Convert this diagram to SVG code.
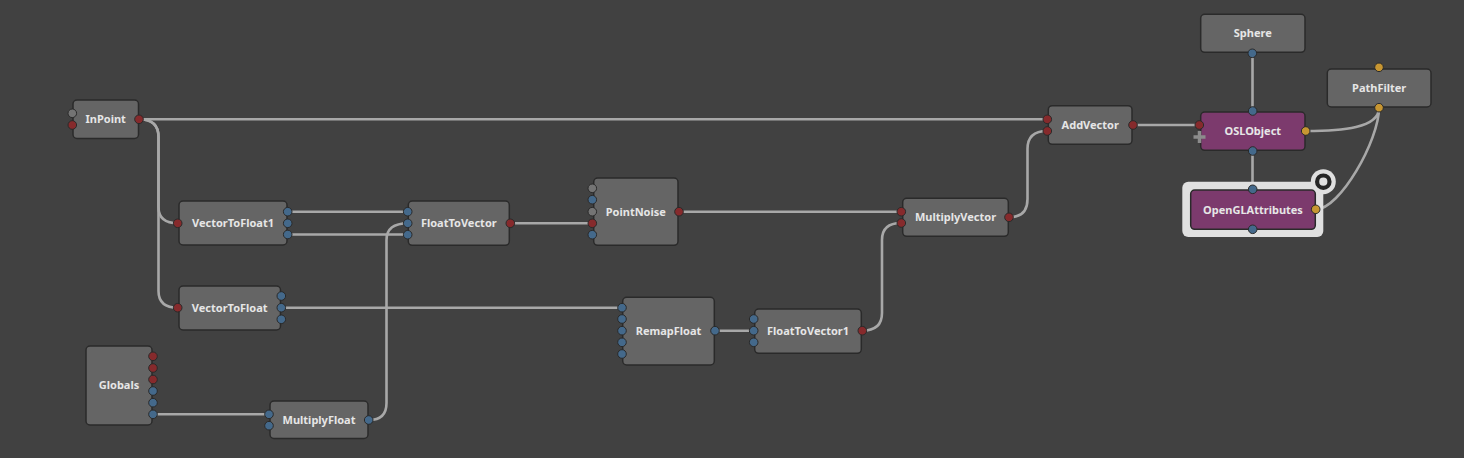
<svg xmlns="http://www.w3.org/2000/svg" width="1464" height="458" viewBox="0 0 1464 458">
<style>
.bg{fill:#414141}
.n{fill:#656565;stroke:#2a2a2a;stroke-width:1.5}
.p{fill:#7c3a6d;stroke:#2a2a2a;stroke-width:1.5}
.t{font-family:"Noto Sans","DejaVu Sans",sans-serif;font-weight:bold;font-size:11px;fill:#e6e6e6;text-anchor:middle}
.r{fill:#862a2c;stroke:#2a2a2a;stroke-width:1}
.b{fill:#44698b;stroke:#2a2a2a;stroke-width:1}
.g{fill:#747474;stroke:#2a2a2a;stroke-width:1}
.y{fill:#c79632;stroke:#2a2a2a;stroke-width:1}
.c{fill:none;stroke:#a8a8a8;stroke-width:2.6}
</style>
<rect class="bg" x="0" y="0" width="1464" height="458"/>
<g id="connectors">
<path class="c" d="M139,119.3 L1047,119.3"/>
<path class="c" d="M139,119.3 Q158.5,119.3 158.5,137 L158.5,207 Q158.5,223.3 178,223.3"/>
<path class="c" d="M139,119.3 Q158.5,119.3 158.5,137 L158.5,291 Q158.5,307.7 178,307.7"/>
<path class="c" d="M288,211.7 L408,211.7"/>
<path class="c" d="M288,234.5 L408,234.5"/>
<path class="c" d="M369,420 Q386.5,420 386.5,403 L386.5,240 Q386.5,223.3 408,223.3"/>
<path class="c" d="M153,414.3 L269,414.3"/>
<path class="c" d="M281,307.7 L622,307.7"/>
<path class="c" d="M510,223.3 L592,223.3"/>
<path class="c" d="M679,211.7 L901,211.7"/>
<path class="c" d="M715,330.7 L754,330.7"/>
<path class="c" d="M862,330.7 Q882,330.7 882,313 L882,240 Q882,223 901,223"/>
<path class="c" d="M1009,217.3 Q1027.5,217.3 1027.5,199 L1027.5,149 Q1027.5,131 1047,131"/>
<path class="c" d="M1133,125 L1199,125"/>
<path class="c" d="M1252.5,53 L1252.5,111"/>
<path class="c" d="M1252.5,151 L1252.5,189"/>
<path class="c" d="M1306,131 C1342,131 1379,128 1379,108"/>
<path class="c" d="M1316,209.3 C1340,209.3 1379,140 1379,108"/>
</g>
<g id="InPoint">
<rect class="n" x="73" y="100" width="65.5" height="38.5" rx="4"/>
<text class="t" x="105.7" y="123.3">InPoint</text>
<circle class="g" cx="72.3" cy="113.3" r="4.3"/>
<circle class="r" cx="72.3" cy="125" r="4.3"/>
<circle class="r" cx="139" cy="119.3" r="4.3"/>
</g>
<g id="VectorToFloat1">
<rect class="n" x="179" y="201" width="108" height="44" rx="4"/>
<text class="t" x="233" y="227.3">VectorToFloat1</text>
<circle class="r" cx="177.7" cy="223.3" r="4.3"/>
<circle class="b" cx="287.7" cy="211.7" r="4.3"/>
<circle class="b" cx="287.7" cy="223.3" r="4.3"/>
<circle class="b" cx="287.7" cy="234.5" r="4.3"/>
</g>
<g id="VectorToFloat">
<rect class="n" x="179" y="286" width="101.5" height="44" rx="4"/>
<text class="t" x="229.7" y="311.7">VectorToFloat</text>
<circle class="r" cx="177.7" cy="307.7" r="4.3"/>
<circle class="b" cx="281.3" cy="296" r="4.3"/>
<circle class="b" cx="281.3" cy="307.7" r="4.3"/>
<circle class="b" cx="281.3" cy="319.3" r="4.3"/>
</g>
<g id="Globals">
<rect class="n" x="86" y="346" width="66" height="79" rx="4"/>
<text class="t" x="119" y="389.3">Globals</text>
<circle class="r" cx="153" cy="356.3" r="4.3"/>
<circle class="r" cx="153" cy="368" r="4.3"/>
<circle class="r" cx="153" cy="379.5" r="4.3"/>
<circle class="b" cx="153" cy="391" r="4.3"/>
<circle class="b" cx="153" cy="402.7" r="4.3"/>
<circle class="b" cx="153" cy="414.3" r="4.3"/>
</g>
<g id="MultiplyFloat">
<rect class="n" x="270" y="401" width="98" height="37.5" rx="4"/>
<text class="t" x="319" y="424">MultiplyFloat</text>
<circle class="b" cx="269" cy="414.3" r="4.3"/>
<circle class="b" cx="269" cy="425.7" r="4.3"/>
<circle class="b" cx="368.7" cy="420" r="4.3"/>
</g>
<g id="FloatToVector">
<rect class="n" x="408.3" y="201" width="101" height="44.3" rx="4"/>
<text class="t" x="458.8" y="227.3">FloatToVector</text>
<circle class="b" cx="407.7" cy="211.7" r="4.3"/>
<circle class="b" cx="407.7" cy="223.3" r="4.3"/>
<circle class="b" cx="407.7" cy="234.7" r="4.3"/>
<circle class="r" cx="510.3" cy="223.3" r="4.3"/>
</g>
<g id="PointNoise">
<rect class="n" x="593.7" y="178" width="84.3" height="67.3" rx="4"/>
<text class="t" x="635.8" y="215.7">PointNoise</text>
<circle class="g" cx="592.3" cy="188.3" r="4.3"/>
<circle class="b" cx="592.3" cy="199.7" r="4.3"/>
<circle class="g" cx="592.3" cy="211.7" r="4.3"/>
<circle class="r" cx="592.3" cy="223.3" r="4.3"/>
<circle class="b" cx="592.3" cy="234.7" r="4.3"/>
<circle class="r" cx="679" cy="211.7" r="4.3"/>
</g>
<g id="RemapFloat">
<rect class="n" x="622.7" y="297.3" width="91.6" height="67.7" rx="4"/>
<text class="t" x="668.5" y="334.7">RemapFloat</text>
<circle class="b" cx="622" cy="307.7" r="4.3"/>
<circle class="b" cx="622" cy="319" r="4.3"/>
<circle class="b" cx="622" cy="330.7" r="4.3"/>
<circle class="b" cx="622" cy="342.3" r="4.3"/>
<circle class="b" cx="622" cy="354" r="4.3"/>
<circle class="b" cx="715" cy="330.7" r="4.3"/>
</g>
<g id="FloatToVector1">
<rect class="n" x="754.7" y="309" width="106.6" height="44.3" rx="4"/>
<text class="t" x="808" y="334.7">FloatToVector1</text>
<circle class="b" cx="753.7" cy="319" r="4.3"/>
<circle class="b" cx="753.7" cy="330.7" r="4.3"/>
<circle class="b" cx="753.7" cy="342.3" r="4.3"/>
<circle class="r" cx="862.3" cy="330.7" r="4.3"/>
</g>
<g id="MultiplyVector">
<rect class="n" x="902.7" y="198.3" width="105.6" height="38" rx="4"/>
<text class="t" x="955.5" y="221.3">MultiplyVector</text>
<circle class="r" cx="901.3" cy="211.7" r="4.3"/>
<circle class="r" cx="901.3" cy="223" r="4.3"/>
<circle class="r" cx="1009" cy="217.3" r="4.3"/>
</g>
<g id="AddVector">
<rect class="n" x="1048.3" y="105.7" width="83.7" height="38.6" rx="4"/>
<text class="t" x="1090.2" y="129">AddVector</text>
<circle class="r" cx="1047.3" cy="119.3" r="4.3"/>
<circle class="r" cx="1047.3" cy="131" r="4.3"/>
<circle class="r" cx="1133" cy="125" r="4.3"/>
</g>
<g id="Sphere">
<rect class="n" x="1200.7" y="14.3" width="104.3" height="38" rx="4"/>
<text class="t" x="1252.8" y="37.3">Sphere</text>
<circle class="b" cx="1252.3" cy="53.3" r="4.3"/>
</g>
<g id="PathFilter">
<rect class="n" x="1327.3" y="69" width="103.7" height="38" rx="4"/>
<text class="t" x="1379.2" y="92">PathFilter</text>
<circle class="y" cx="1379" cy="67.3" r="4.3"/>
<circle class="y" cx="1379" cy="107.7" r="4.3"/>
</g>
<g id="OSLObject">
<rect class="p" x="1200.7" y="112" width="104.3" height="38.3" rx="4"/>
<text class="t" x="1252.8" y="135">OSLObject</text>
<circle class="b" cx="1252.7" cy="111" r="4.3"/>
<circle class="b" cx="1252.7" cy="151" r="4.3"/>
<circle class="r" cx="1199.3" cy="125" r="4.3"/>
<circle class="y" cx="1305.7" cy="131" r="4.3"/>
<path d="M1193.5,137 L1205.5,137 M1199.5,131 L1199.5,143" stroke="#8c8c8c" stroke-width="3.5" fill="none"/>
</g>
<g id="OpenGLAttributes">
<rect x="1182.3" y="181.7" width="141" height="55.3" rx="6" fill="#e0e0e0"/>
<circle cx="1323.3" cy="181.7" r="12.5" fill="#e0e0e0"/>
<circle cx="1323.3" cy="181.7" r="6.2" fill="none" stroke="#262626" stroke-width="4.2"/>
<rect class="p" x="1190.7" y="190" width="124.6" height="39.3" rx="4"/>
<text class="t" x="1253" y="213.5">OpenGLAttributes</text>
<circle class="b" cx="1252.7" cy="189.3" r="4.3"/>
<circle class="b" cx="1252.7" cy="229.3" r="4.3"/>
<circle class="y" cx="1315.7" cy="209.3" r="4.3"/>
</g>
</svg>
